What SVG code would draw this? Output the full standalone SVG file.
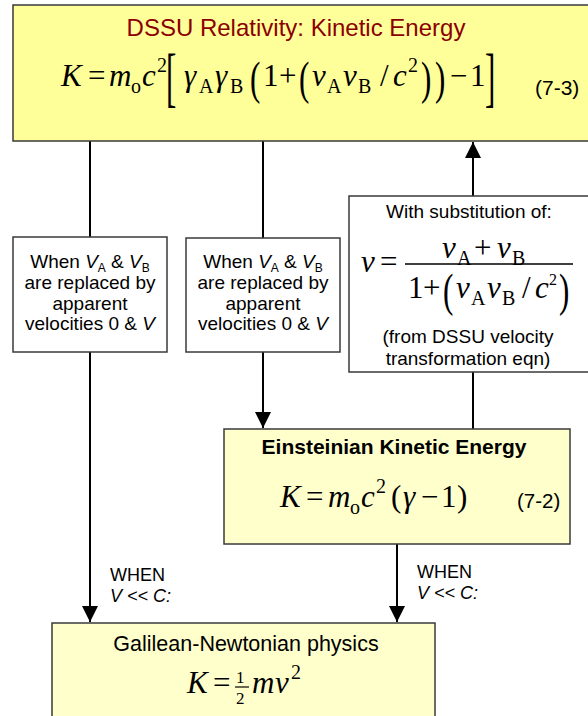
<svg xmlns="http://www.w3.org/2000/svg" width="588" height="716" viewBox="0 0 588 716">
<style>
.box{stroke:#3a3a3a;stroke-width:1.5}
.yel{fill:#FFFF99}
.lyel{fill:#FFFFCC}
.wht{fill:#FFFFFF}
.t{font-family:"Liberation Sans",Arial,sans-serif;font-size:19px;fill:#000}
.m{font-family:"Liberation Serif","Times New Roman",serif;font-size:31px;fill:#000}
.i{font-style:italic}
.s{font-size:20px}
.ss{font-size:12px}
.conn{stroke:#000;stroke-width:2;fill:none}
</style>
<defs>
<marker id="ah" viewBox="0 0 16 16" refX="16" refY="8" markerWidth="16" markerHeight="16" orient="auto" markerUnits="userSpaceOnUse">
<path d="M0,0 L16,8 L0,16 Z" fill="#000"/>
</marker>
</defs>

<g id="connectors">
<line class="conn" x1="90" y1="141" x2="90" y2="237"/>
<line class="conn" x1="90" y1="352" x2="90" y2="622" marker-end="url(#ah)"/>
<line class="conn" x1="263" y1="141" x2="263" y2="238"/>
<line class="conn" x1="263" y1="352" x2="263" y2="428" marker-end="url(#ah)"/>
<line class="conn" x1="473" y1="372" x2="473" y2="429"/>
<line class="conn" x1="473" y1="196" x2="473" y2="142" marker-end="url(#ah)"/>
<line class="conn" x1="397" y1="544" x2="397" y2="622" marker-end="url(#ah)"/>
</g>

<g id="dssu">
<rect class="box yel" x="13" y="5" width="580" height="136"/>
<text class="t" x="296" y="36" text-anchor="middle" style="font-size:24px;fill:#8B0000">DSSU Relativity: Kinetic Energy</text>
<g class="m">
<text x="61" y="86" class="i">K</text>
<text x="88" y="86">=</text>
<text x="109" y="86" class="i">m</text>
<text x="131" y="93" class="s">o</text>
<text x="142" y="86" class="i">c</text>
<text x="157" y="72" class="s">2</text>
<text transform="translate(166,80) scale(1,2.1)" y="9">[</text>
<text x="184" y="86" class="i">γ</text>
<text x="199" y="93" class="s">A</text>
<text x="215" y="86" class="i">γ</text>
<text x="230" y="93" class="s">B</text>
<text transform="translate(250,80) scale(1,1.5)" y="9">(</text>
<text x="263" y="86">1</text>
<text x="279" y="86">+</text>
<text transform="translate(299,80) scale(1,1.5)" y="9">(</text>
<text x="312" y="86" class="i">ν</text>
<text x="327" y="93" class="s">A</text>
<text x="343" y="86" class="i">ν</text>
<text x="358" y="93" class="s">B</text>
<text x="380" y="86">/</text>
<text x="393" y="86" class="i">c</text>
<text x="408" y="72" class="s">2</text>
<text transform="translate(421,80) scale(1,1.5)" y="9">)</text>
<text transform="translate(435,80) scale(1,1.5)" y="9">)</text>
<text x="450" y="86">−</text>
<text x="470" y="86">1</text>
<text transform="translate(485,80) scale(1,2.1)" y="9">]</text>
</g>
<text class="t" x="535" y="95" style="font-size:21px">(7-3)</text>
</g>

<g id="case-left">
<rect class="box wht" x="13" y="237" width="154" height="115"/>
<text class="t" x="90" y="268" text-anchor="middle">When <tspan class="i">V</tspan><tspan class="ss" dy="4">A</tspan><tspan dy="-4"> &amp; </tspan><tspan class="i">V</tspan><tspan class="ss" dy="4">B</tspan></text>
<text class="t" x="90" y="289" text-anchor="middle">are replaced by</text>
<text class="t" x="90" y="310" text-anchor="middle">apparent</text>
<text class="t" x="90" y="330" text-anchor="middle">velocities 0 &amp; <tspan class="i">V</tspan></text>
</g>

<g id="case-mid">
<rect class="box wht" x="186" y="238" width="154" height="114"/>
<text class="t" x="263" y="268" text-anchor="middle">When <tspan class="i">V</tspan><tspan class="ss" dy="4">A</tspan><tspan dy="-4"> &amp; </tspan><tspan class="i">V</tspan><tspan class="ss" dy="4">B</tspan></text>
<text class="t" x="263" y="289" text-anchor="middle">are replaced by</text>
<text class="t" x="263" y="310" text-anchor="middle">apparent</text>
<text class="t" x="263" y="330" text-anchor="middle">velocities 0 &amp; <tspan class="i">V</tspan></text>
</g>

<g id="substitution">
<rect class="box wht" x="349" y="196" width="244" height="176"/>
<text class="t" x="469" y="218" text-anchor="middle">With substitution of:</text>
<g class="m">
<text x="361" y="272" class="i">ν</text>
<text x="380" y="272">=</text>
<text x="442" y="258" class="i">ν</text>
<text x="457" y="265" class="s">A</text>
<text x="474" y="258">+</text>
<text x="497" y="258" class="i">ν</text>
<text x="512" y="265" class="s">B</text>
<line x1="405" y1="264" x2="573" y2="264" stroke="#000" stroke-width="1.5"/>
<text x="408" y="298">1</text>
<text x="423" y="298">+</text>
<text transform="translate(443,292) scale(1,1.5)" y="9">(</text>
<text x="456" y="298" class="i">ν</text>
<text x="471" y="305" class="s">A</text>
<text x="487" y="298" class="i">ν</text>
<text x="502" y="305" class="s">B</text>
<text x="522" y="298">/</text>
<text x="535" y="298" class="i">c</text>
<text x="549" y="285" style="font-size:16px">2</text>
<text transform="translate(559,292) scale(1,1.5)" y="9">)</text>
</g>
<text class="t" x="468" y="343" text-anchor="middle">(from DSSU velocity</text>
<text class="t" x="468" y="365" text-anchor="middle">transformation eqn)</text>
</g>

<g id="einstein">
<rect class="box lyel" x="224" y="429" width="346" height="115"/>
<text class="t" x="394" y="454" text-anchor="middle" style="font-weight:bold;font-size:21px">Einsteinian Kinetic Energy</text>
<g class="m">
<text x="280" y="507" class="i">K</text>
<text x="306" y="507">=</text>
<text x="328" y="507" class="i">m</text>
<text x="350" y="514" class="s">o</text>
<text x="361" y="507" class="i">c</text>
<text x="376" y="493" class="s">2</text>
<text x="391" y="507">(</text>
<text x="403" y="507" class="i">γ</text>
<text x="421" y="507">−</text>
<text x="441" y="507">1</text>
<text x="457" y="507">)</text>
</g>
<text class="t" x="517" y="508" style="font-size:20.5px">(7-2)</text>
</g>

<g id="galilean">
<rect class="box lyel" x="52" y="623" width="383" height="100"/>
<text class="t" x="246" y="651" text-anchor="middle" style="font-size:21.5px">Galilean-Newtonian physics</text>
<g class="m">
<text x="187" y="693" class="i">K</text>
<text x="213" y="693">=</text>
<text x="236" y="683" style="font-size:17px">1</text>
<line x1="235" y1="687" x2="249" y2="687" stroke="#000" stroke-width="1.2"/>
<text x="236" y="704" style="font-size:17px">2</text>
<text x="252" y="693" class="i">m</text>
<text x="275" y="693" class="i">ν</text>
<text x="291" y="679" class="s">2</text>
</g>
</g>

<g id="labels">
<text class="t" x="110" y="581" style="font-size:18px">WHEN</text>
<text class="t i" x="110" y="602" style="font-size:18px">V &lt;&lt; C:</text>
<text class="t" x="417" y="578" style="font-size:18px">WHEN</text>
<text class="t i" x="417" y="599" style="font-size:18px">V &lt;&lt; C:</text>
</g>
</svg>
